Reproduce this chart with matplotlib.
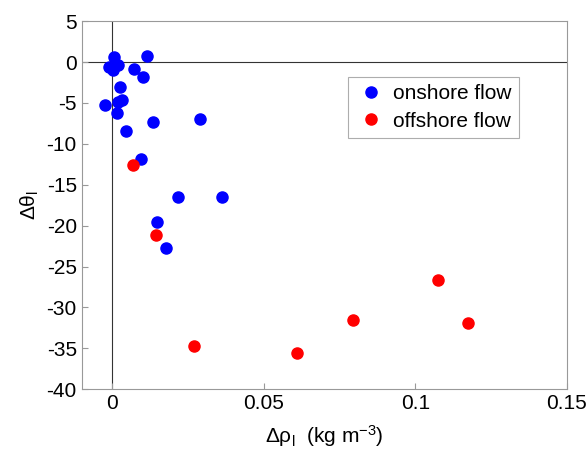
import numpy as np
import matplotlib
matplotlib.use('Agg')
import matplotlib.pyplot as plt

plt.rcParams['font.family'] = ['Liberation Sans', 'DejaVu Sans']
plt.rcParams['mathtext.default'] = 'regular'
plt.rcParams['axes.unicode_minus'] = False

# onshore flow (blue)
on_drho = [0.0008, 0.0114, -0.0011, 0.0004, 0.0021, 0.0073, 0.0101, 0.0025,
           0.0033, 0.0021, -0.0022, 0.0015, 0.0135, 0.0290, 0.0045, 0.0096,
           0.0218, 0.0364, 0.0148, 0.0178]
on_dtheta = [0.6, 0.7, -0.6, -1.0, -0.3, -0.9, -1.8, -3.1,
             -4.7, -4.9, -5.3, -6.2, -7.3, -7.0, -8.4, -11.8,
             -16.5, -16.5, -19.5, -22.7]

# offshore flow (red)
off_drho = [0.0069, 0.0145, 0.0271, 0.0609, 0.0795, 0.1075, 0.1173]
off_dtheta = [-12.6, -21.2, -34.7, -35.6, -31.5, -26.6, -31.9]

xticks = [0, 0.05, 0.1, 0.15]
xticklabels = ['0', '0.05', '0.1', '0.15']
yticks = np.arange(-40, 6, 5)

fig = plt.figure(figsize=(5.88, 4.5), dpi=100)
ax = fig.add_axes([0.139, 0.135, 0.825, 0.818])

ax.axhline(0, color='#333333', linewidth=0.8, zorder=1)
ax.axvline(0, color='#333333', linewidth=0.8, zorder=1)

ax.plot(on_drho, on_dtheta, 'o', color='#0000ff', markersize=8,
        linestyle='none', label='onshore flow', zorder=3)
ax.plot(off_drho, off_dtheta, 'o', color='#ff0000', markersize=8,
        linestyle='none', label='offshore flow', zorder=3)

ax.set_xlim(-0.01, 0.15)
ax.set_ylim(-40, 5)
ax.set_xticks(xticks)
ax.set_xticklabels(xticklabels)
ax.set_yticks(yticks)

for s in ax.spines.values():
    s.set_color('#999999')
ax.tick_params(direction='in', colors='#999999', labelcolor='black',
               labelsize=15, length=4)

ax.set_xlabel(r'$\Delta\rho_l$  (kg m$^{-3}$)', fontsize=15, labelpad=7)
ax.set_ylabel(r'$\Delta\theta_l$', fontsize=15, labelpad=4)

leg = ax.legend(loc='upper left', bbox_to_anchor=(0.549, 0.848), fontsize=15,
                frameon=True, fancybox=False, handletextpad=0.3,
                borderpad=0.35, labelspacing=0.4, handlelength=1.5,
                borderaxespad=0)
leg.get_frame().set_edgecolor('#999999')
leg.get_frame().set_linewidth(0.8)

fig.savefig('out.png', dpi=100)
